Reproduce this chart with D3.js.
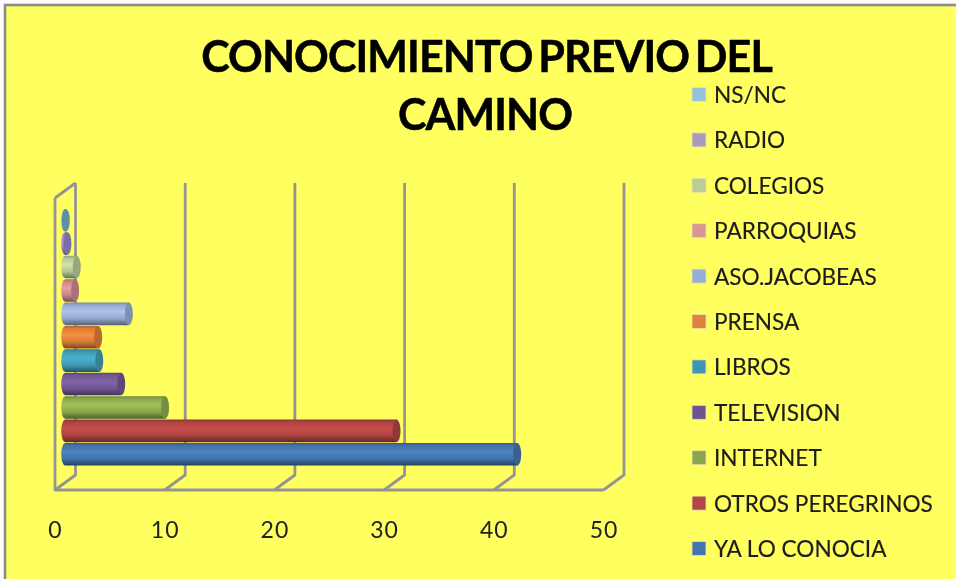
<!DOCTYPE html>
<html><head><meta charset="utf-8">
<script src="https://cdn.jsdelivr.net/npm/d3@7"></script>
<style>
html,body{margin:0;padding:0;background:#fff;overflow:hidden}
svg{display:block;filter:blur(0.45px)}
</style></head><body><div id="c"></div>
<script>
const categories=["YA LO CONOCIA","OTROS PEREGRINOS","INTERNET","TELEVISION","LIBROS","PRENSA","ASO.JACOBEAS","PARROQUIAS","COLEGIOS","RADIO","NS/NC"];
const values=[41.2,30.2,9.1,5.1,3.1,3,5.8,0.9,1.05,0.2,0.05];
const barColors=["#4a7ebb","#be4b48","#98b954","#7d60a0","#46aac5","#f0883c","#a5bde4","#e0959a","#c6dba4","#a190d8","#7cbbd8"];
const legendColors=["#4575b0","#b44545","#8aa64f","#6e5490","#3d96b4","#e0823f","#95aed3","#d99694","#b9cd96","#a99bc0","#93c4d9"];
const xTicks=[0,10,20,30,40,50];
const titleLines=["CONOCIMIENTO PREVIO DEL","CAMINO"];

const W=956,H=579,depthX=20.5,depthY=15,floorY=490,wallTop=198,capRx=4;
const svg=d3.select("#c").append("svg").attr("width",W).attr("height",H);
const defs=svg.append("defs");
svg.append("rect").attr("width",W).attr("height",H).attr("fill","#fff");
svg.append("rect").attr("x",5).attr("y",5).attr("width",W).attr("height",H).attr("fill","#ffff5f").attr("stroke","#8c8c8c").attr("stroke-width",2.6);

titleLines.forEach((t,i)=>svg.append("text").text(t)
 .attr("x",i?485:486.5).attr("y",i?130:72).attr("text-anchor","middle")
 .attr("font-family","Lato").attr("font-weight",700).attr("font-size",43).attr("fill","#000")
 .attr("stroke","#000").attr("stroke-width",0.5)
 .attr("style","letter-spacing:-0.9px;word-spacing:-4px"));

const x=d3.scaleLinear().domain([0,50]).range([55,603.5]);
const wall=svg.append("g").attr("fill","none").attr("stroke","#949494").attr("stroke-width",2.8).attr("stroke-linejoin","round");
// floor, side wall and back gridlines
wall.append("path").attr("d",`M${x(0)},${wallTop}V${floorY}H${x(50)}`);
wall.append("path").attr("d",`M${x(0)},${wallTop}l${depthX},${-depthY}`);
xTicks.forEach(v=>wall.append("path").attr("d",`M${x(v)},${floorY}l${depthX},${-depthY}V${wallTop-depthY}`));

// bars
const y=d3.scaleBand().domain(categories).range([466,208.5]);
const barX=d3.scaleLinear().domain([0,50]).range([x(0)+depthX/2,x(50)+depthX/2]);
const rows=categories.map((c,i)=>({c,v:values[i],col:barColors[i],i}));
rows.forEach(d=>{
 const c=d3.color(d.col);
 const g=defs.append("linearGradient").attr("id","g"+d.i).attr("x1",0).attr("x2",0).attr("y1",0).attr("y2",1);
 [[0,c.darker(0.9)],[0.12,c.darker(0.25)],[0.4,c.brighter(0.12)],[0.7,c.darker(0.3)],[1,c.darker(1.9)]]
  .forEach(s=>g.append("stop").attr("offset",s[0]).attr("stop-color",s[1]));
});
const bars=svg.append("g").selectAll("g").data(rows.slice().reverse()).join("g");
bars.append("path").attr("fill",d=>`url(#g${d.i})`).attr("d",d=>{
 const x0=barX(0),x1=barX(d.v),t=y(d.c)+0.4,h=y.bandwidth()-0.8;
 return `M${x0},${t}H${x1}V${t+h}H${x0}A${capRx},${h/2} 0 0 1 ${x0},${t}Z`;
});
bars.append("ellipse").attr("cx",d=>barX(d.v)).attr("cy",d=>y(d.c)+y.bandwidth()/2)
 .attr("rx",capRx).attr("ry",y.bandwidth()/2-0.4)
 .attr("fill",d=>d3.color(d.col).darker(0.75));

// axis
const axis=svg.append("g").attr("transform","translate(0,521)").call(d3.axisBottom(x).tickValues(xTicks).tickSize(0).tickPadding(0));
axis.select(".domain").remove();
axis.selectAll("text").attr("font-family","Lato").attr("font-size",23).attr("fill","#222").attr("dy","0.72em").attr("style","letter-spacing:1px");

// legend
const legendY=d3.scalePoint().domain(categories).range([549,95]);
const leg=svg.append("g").selectAll("g").data(rows).join("g").attr("transform",d=>`translate(0,${legendY(d.c)})`);
leg.append("rect").attr("x",692).attr("y",-7.5).attr("width",14).attr("height",14)
 .attr("fill",d=>legendColors[d.i]).attr("stroke","#e6e6a0").attr("stroke-width",0.8);
leg.append("text").text(d=>d.c).attr("x",714).attr("y",8).attr("font-family","Lato").attr("font-size",22.6).attr("fill","#1c1c1c").attr("stroke","#1c1c1c").attr("stroke-width",0.15);
</script></body></html>
